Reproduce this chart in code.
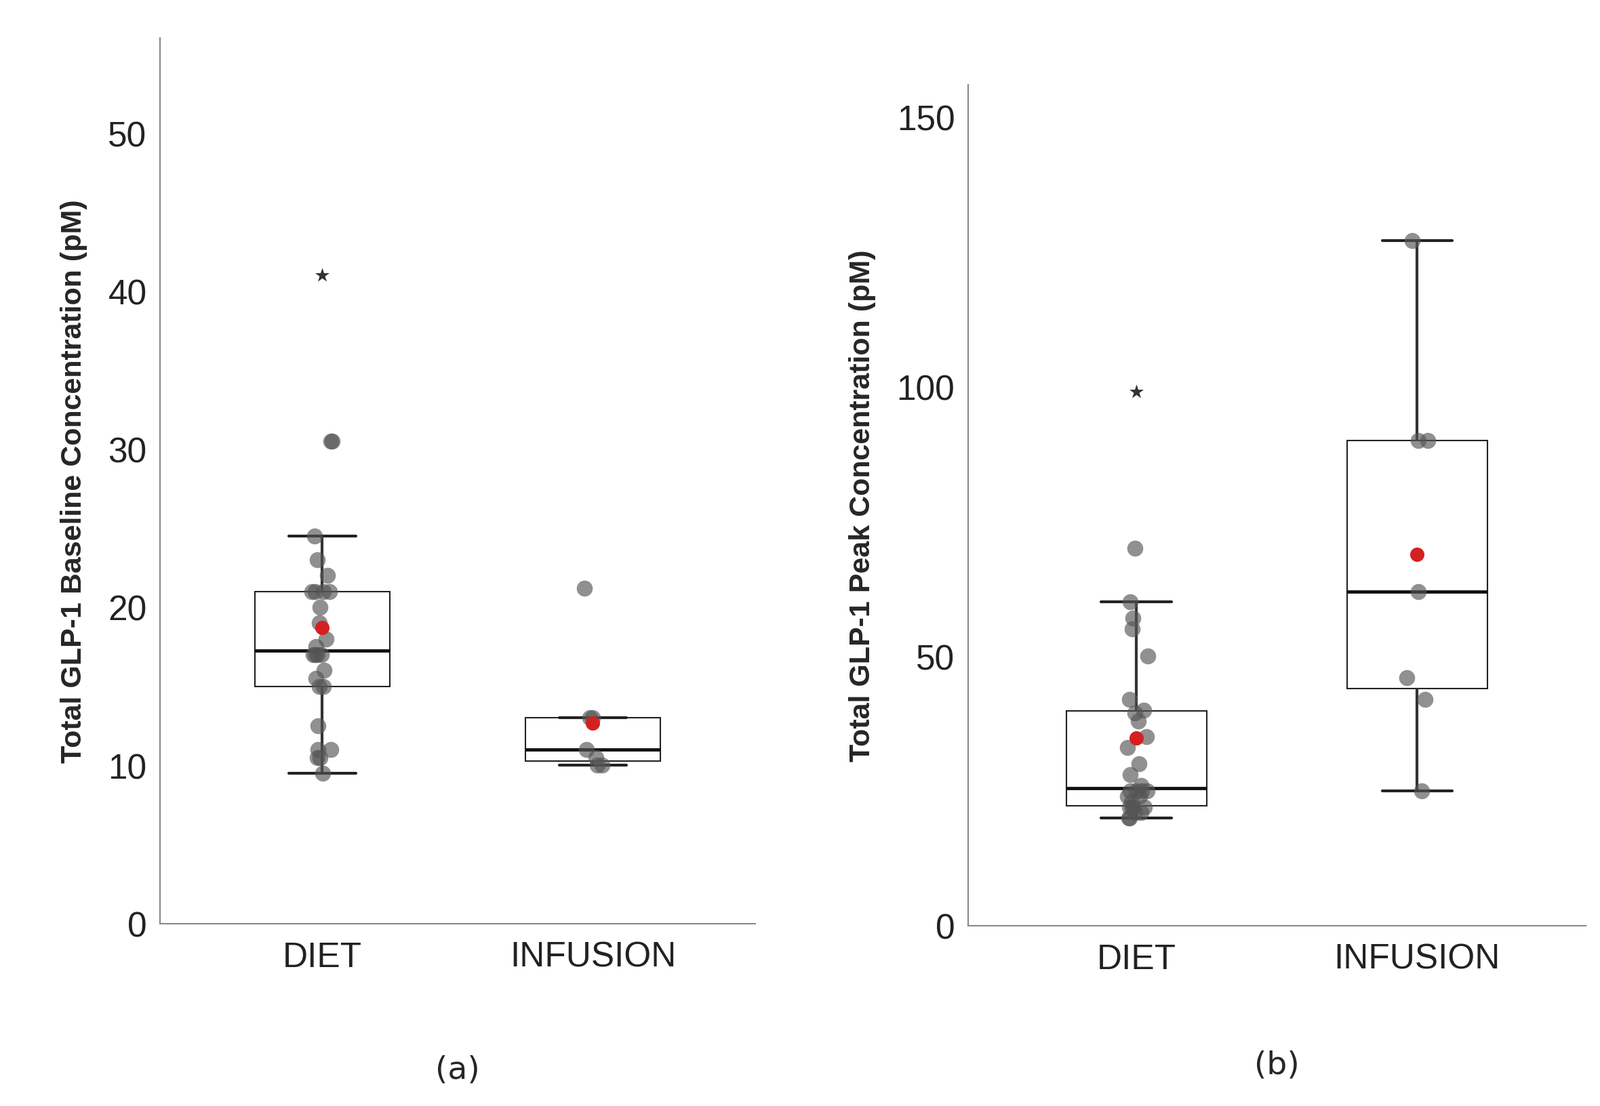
import numpy as np, pandas as pd, seaborn as sns, matplotlib.pyplot as plt

groups = ["DIET", "INFUSION"]
base_diet = [9.5,10.5,10.5,11,11,12.5,15,15,15.5,16,17,17,17,17,17.5,18,19,20,21,21,21,21,22,23,24.5,30.5,30.5,41]
base_inf = [10,10,10.5,11,13,13,21.2]
peak_diet = [20,20,21,21,22,22,22,22,23,24,24,25,25,25,25,26,28,30,33,35,38,39.5,40,42,50,55,57,60,70,99]
peak_inf = [25,42,46,62,90,90,127]

sns.set_theme(style="white")
plt.rcParams['font.family'] = ['Liberation Sans', 'DejaVu Sans']
fig = plt.figure(figsize=(23.6, 16.33), dpi=100)
ax1 = fig.add_axes([0.100, 0.165, 0.372, 0.80])
ax2 = fig.add_axes([0.605, 0.163, 0.386, 0.760])

def panel(ax, d1, d2, ymax, yticks, ylabel, letter):
    df = pd.DataFrame({"g": ["DIET"]*len(d1) + ["INFUSION"]*len(d2), "v": d1 + d2})
    star = np.zeros(len(df), bool)
    for g in groups:
        m = df.g == g
        q1, q3 = np.percentile(df.v[m], [25, 75])
        star |= (m & (df.v > q3 + 3*(q3-q1))).values
    sns.boxplot(data=df, x="g", y="v", order=groups, ax=ax, showfliers=False, width=0.5,
                boxprops=dict(facecolor="white", edgecolor="#222", linewidth=1.5),
                medianprops=dict(color="#111", linewidth=3.5),
                whiskerprops=dict(color="#333", linewidth=3),
                capprops=dict(color="#222", linewidth=3), capwidths=0.25)
    sns.stripplot(data=df[~star], x="g", y="v", order=groups, ax=ax, color="#555", alpha=0.65,
                  size=17, jitter=0.04, zorder=3)
    sns.stripplot(data=df[star], x="g", y="v", order=groups, ax=ax, color="#333", marker="*",
                  size=16, jitter=0, zorder=3)
    means = df.groupby("g")["v"].mean().reindex(groups)
    ax.scatter(range(2), means.values, color="#d42020", s=200, zorder=4)
    ax.set_ylim(0, ymax); ax.set_yticks(yticks)
    ax.set_xlim(-0.6, 1.6)
    ax.set_xlabel(""); ax.set_ylabel(ylabel, fontsize=31, fontweight="bold", labelpad=22)
    ax.tick_params(axis="both", labelsize=37, length=0, colors="#222")
    ax.tick_params(axis="x", pad=18)
    ax.tick_params(axis="y", pad=14)
    for s in ["top", "right"]:
        ax.spines[s].set_visible(False)
    for s in ["left", "bottom"]:
        ax.spines[s].set_color("#888"); ax.spines[s].set_linewidth(1.5)
    ax.text(0.5, -0.165, letter, transform=ax.transAxes, ha="center", va="center",
            fontsize=34, family="DejaVu Sans")

panel(ax1, base_diet, base_inf, 56, [0,10,20,30,40,50], "Total GLP-1 Baseline Concentration (pM)", "(a)")
panel(ax2, peak_diet, peak_inf, 156, [0,50,100,150], "Total GLP-1 Peak Concentration (pM)", "(b)")
fig.savefig("out.png", dpi=100, facecolor="white")
